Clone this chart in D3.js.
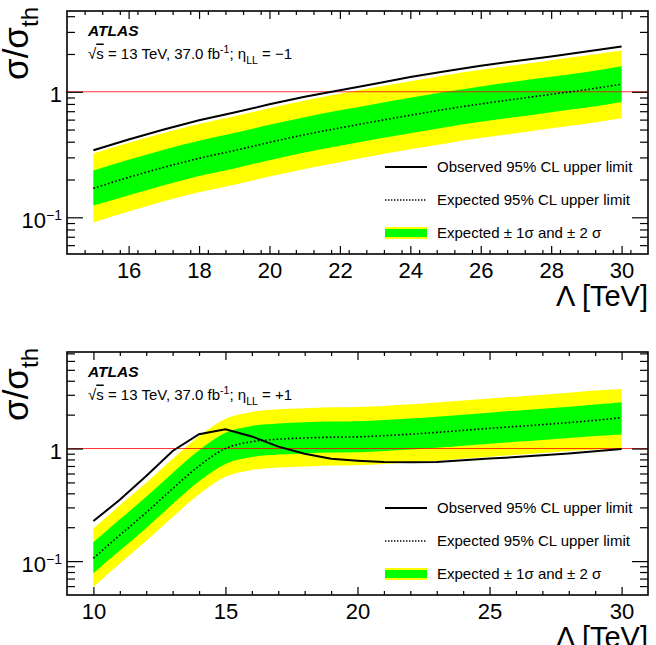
<!DOCTYPE html>
<html>
<head>
<meta charset="utf-8">
<script src="https://cdnjs.cloudflare.com/ajax/libs/d3/7.8.5/d3.min.js"></script>
<style>
  body { margin: 0; background: #fff; }
  text { font-family: "Liberation Sans", Arial, Helvetica, sans-serif; }
</style>
</head>
<body>
<div id="chart"></div>
<script>
// eta_LL = -1 (upper panel)
var topLambda = [15, 16, 17, 18, 19, 20, 21, 22, 23, 24, 25, 26, 27, 28, 29, 30];
var topObserved = [0.342, 0.417, 0.500, 0.593, 0.684, 0.794, 0.912, 1.030, 1.160, 1.310, 1.460, 1.610, 1.760, 1.910, 2.090, 2.290];
var topExpected = [0.170, 0.208, 0.250, 0.295, 0.340, 0.395, 0.455, 0.515, 0.580, 0.650, 0.725, 0.800, 0.875, 0.955, 1.040, 1.150];
var topMinus2 = [0.091, 0.111, 0.134, 0.158, 0.182, 0.211, 0.243, 0.275, 0.310, 0.348, 0.388, 0.428, 0.468, 0.511, 0.556, 0.615];
var topMinus1 = [0.124, 0.150, 0.180, 0.213, 0.245, 0.285, 0.328, 0.371, 0.418, 0.468, 0.522, 0.576, 0.630, 0.688, 0.749, 0.830];
var topPlus1 = [0.236, 0.287, 0.345, 0.407, 0.469, 0.545, 0.628, 0.711, 0.800, 0.897, 1.000, 1.104, 1.208, 1.318, 1.435, 1.600];
var topPlus2 = [0.323, 0.392, 0.470, 0.553, 0.637, 0.740, 0.852, 0.965, 1.085, 1.215, 1.355, 1.495, 1.635, 1.785, 1.945, 2.130];

// eta_LL = +1 (lower panel)
var bottomLambda = [10, 11, 12, 13, 14, 15, 16, 17, 18, 19, 20, 21, 22, 23, 24, 25, 26, 27, 28, 29, 30];
var bottomObserved = [0.227, 0.350, 0.570, 0.950, 1.340, 1.480, 1.280, 1.040, 0.900, 0.810, 0.780, 0.760, 0.755, 0.760, 0.785, 0.815, 0.840, 0.870, 0.905, 0.945, 0.990];
var bottomExpected = [0.106, 0.170, 0.270, 0.440, 0.700, 1.000, 1.150, 1.210, 1.240, 1.260, 1.270, 1.300, 1.340, 1.390, 1.450, 1.510, 1.570, 1.630, 1.700, 1.780, 1.880];
var bottomMinus2 = [0.059, 0.095, 0.151, 0.246, 0.392, 0.560, 0.644, 0.680, 0.694, 0.706, 0.711, 0.728, 0.750, 0.778, 0.812, 0.846, 0.879, 0.913, 0.952, 0.975, 1.000];
var bottomMinus1 = [0.078, 0.124, 0.197, 0.321, 0.511, 0.730, 0.840, 0.883, 0.905, 0.920, 0.927, 0.949, 0.978, 1.015, 1.059, 1.102, 1.146, 1.190, 1.241, 1.290, 1.330];
var bottomPlus1 = [0.147, 0.235, 0.373, 0.607, 0.966, 1.380, 1.587, 1.670, 1.710, 1.740, 1.750, 1.790, 1.850, 1.920, 2.000, 2.080, 2.170, 2.250, 2.350, 2.460, 2.580];
var bottomPlus2 = [0.195, 0.313, 0.497, 0.810, 1.288, 1.840, 2.116, 2.230, 2.280, 2.320, 2.340, 2.390, 2.470, 2.560, 2.670, 2.780, 2.890, 3.000, 3.130, 3.280, 3.380];

// tick values
var topXMajor = [16, 18, 20, 22, 24, 26, 28, 30];
var bottomXMajor = [10, 15, 20, 25, 30];
var yMajor = [0.1, 1];

var legendLabels = ["Observed 95% CL upper limit", "Expected 95% CL upper limit", "Expected \u00b1 1\u03c3 and \u00b1 2 \u03c3"];

var svgWidth = 656;
var svgHeight = 645;
var frameLeft = 67;
var frameWidth = 581;
var frameHeight = 243;

var svg = d3.select("#chart")
  .append("svg")
  .attr("width", svgWidth)
  .attr("height", svgHeight);

function range(a, b, step) {
  var out = [];
  for (var v = a; v <= b + 1e-9; v += step) out.push(+v.toFixed(3));
  return out;
}

function drawPanel(p) {
  var g = svg.append("g")
    .attr("transform", `translate(${frameLeft}, ${p.top})`);

  var x = d3.scaleLinear().domain(p.xDomain).range([0, frameWidth]);
  var y = d3.scaleLog().domain(p.yDomain).range([frameHeight, 0]);

  var rows = p.lambda.map(function(l, i) {
    return { l: l, obs: p.obs[i], exp: p.exp[i], m2: p.m2[i], m1: p.m1[i], p1: p.p1[i], p2: p.p2[i] };
  });

  function band(lo, hi) {
    return d3.area().curve(d3.curveMonotoneX)
      .x(d => x(d.l)).y0(d => y(d[lo])).y1(d => y(d[hi]));
  }

  // +-2 sigma and +-1 sigma bands
  g.append("path").datum(rows).attr("d", band("m2", "p2")).attr("fill", "#ffff00");
  g.append("path").datum(rows).attr("d", band("m1", "p1")).attr("fill", "#00ff00");

  // sigma/sigma_th = 1 reference
  g.append("line")
    .attr("x1", 0).attr("x2", frameWidth)
    .attr("y1", y(1)).attr("y2", y(1))
    .attr("stroke", "#ff0000")
    .attr("stroke-opacity", 0.8)
    .attr("stroke-width", 1);

  g.append("path").datum(rows)
    .attr("d", d3.line().curve(d3.curveMonotoneX).x(d => x(d.l)).y(d => y(d.exp)))
    .attr("fill", "none")
    .attr("stroke", "#000")
    .attr("stroke-width", 1.6)
    .attr("stroke-dasharray", "1.6,2.2");

  g.append("path").datum(rows)
    .attr("d", d3.line().x(d => x(d.l)).y(d => y(d.obs)))
    .attr("fill", "none")
    .attr("stroke", "#000")
    .attr("stroke-width", 2);

  // axes, ROOT style ticks pointing inward on all sides
  var xMinor = range(p.xDomain[0], p.xDomain[1], p.xMinorStep)
    .filter(v => v > p.xDomain[0] && v < p.xDomain[1] && p.xMajor.indexOf(v) < 0);
  var yMinor = [];
  [0.01, 0.1, 1].forEach(function(dec) {
    for (var k = 2; k <= 9; k++) {
      var v = +(k * dec).toFixed(4);
      if (v > p.yDomain[0] && v < p.yDomain[1]) yMinor.push(v);
    }
  });

  var bottomAxis = g.append("g")
    .attr("transform", `translate(0, ${frameHeight})`)
    .call(d3.axisBottom(x).tickValues(p.xMajor).tickSize(-8).tickPadding(8).tickFormat(d3.format("d")));
  bottomAxis.selectAll("text").attr("font-size", "22px").attr("fill", "#000");
  g.append("g")
    .attr("transform", `translate(0, ${frameHeight})`)
    .call(d3.axisBottom(x).tickValues(xMinor).tickSize(-4).tickFormat(""));
  g.append("g")
    .call(d3.axisTop(x).tickValues(p.xMajor).tickSize(-8).tickFormat(""));
  g.append("g")
    .call(d3.axisTop(x).tickValues(xMinor).tickSize(-4).tickFormat(""));

  var leftAxis = g.append("g")
    .call(d3.axisLeft(y).tickValues(yMajor).tickSize(-16).tickPadding(5)
      .tickFormat(d => d === 1 ? "1" : "10"));
  leftAxis.selectAll("text")
    .attr("font-size", "22px")
    .attr("fill", "#000")
    .attr("dy", "0.45em")
    .each(function(d) {
      if (d === 0.1) {
        d3.select(this).append("tspan")
          .attr("dy", "-8")
          .attr("font-size", "14px")
          .text("\u22121");
      }
    });
  g.append("g")
    .call(d3.axisLeft(y).tickValues(yMinor).tickSize(-8).tickFormat(""));
  g.append("g")
    .attr("transform", `translate(${frameWidth}, 0)`)
    .call(d3.axisRight(y).tickValues(yMajor).tickSize(-16).tickFormat(""));
  g.append("g")
    .attr("transform", `translate(${frameWidth}, 0)`)
    .call(d3.axisRight(y).tickValues(yMinor).tickSize(-8).tickFormat(""));

  g.selectAll(".domain").remove();
  g.selectAll(".tick line").attr("stroke", "#000").attr("stroke-width", 1.2);

  g.append("rect")
    .attr("width", frameWidth)
    .attr("height", frameHeight)
    .attr("fill", "none")
    .attr("stroke", "#000")
    .attr("stroke-width", 1.6);

  // axis titles
  var yTitle = svg.append("text")
    .attr("transform", `translate(28, ${p.top - 4}) rotate(-90)`)
    .attr("text-anchor", "end")
    .attr("font-size", "35px");
  yTitle.append("tspan").text("\u03c3/\u03c3");
  yTitle.append("tspan").attr("dy", 10).attr("font-size", "24px").text("th");

  svg.append("text")
    .attr("x", frameLeft + frameWidth)
    .attr("y", p.top + frameHeight + 52)
    .attr("text-anchor", "end")
    .attr("font-size", "29px")
    .text("\u039b [TeV]");

  // ATLAS label
  g.append("text")
    .attr("x", 21).attr("y", 25)
    .attr("font-size", "15.5px")
    .attr("font-weight", "bold")
    .attr("font-style", "italic")
    .text("ATLAS");
  var info = g.append("text")
    .attr("x", 21).attr("y", 47.5)
    .attr("font-size", "15px");
  info.append("tspan").text("\u221a");
  info.append("tspan").style("text-decoration", "overline").text("s");
  info.append("tspan").text(" = 13 TeV, 37.0 fb");
  info.append("tspan").attr("dy", -6).attr("font-size", "10.5px").text("-1");
  info.append("tspan").attr("dy", 6).text("; \u03b7");
  info.append("tspan").attr("dy", 5).attr("font-size", "10.5px").text("LL");
  info.append("tspan").attr("dy", -5).text(" = " + p.etaLabel);

  // legend
  var legendY = [156, 189, 222];
  var lg = g.append("g").attr("transform", `translate(${385 - frameLeft}, 0)`);
  lg.append("line")
    .attr("x1", 0).attr("x2", 42).attr("y1", legendY[0]).attr("y2", legendY[0])
    .attr("stroke", "#000").attr("stroke-width", 2);
  lg.append("line")
    .attr("x1", 0).attr("x2", 42).attr("y1", legendY[1]).attr("y2", legendY[1])
    .attr("stroke", "#000").attr("stroke-width", 1.4).attr("stroke-dasharray", "1.4,1.6");
  lg.append("rect")
    .attr("x", 0).attr("y", legendY[2] - 6).attr("width", 42).attr("height", 12)
    .attr("fill", "#ffff00");
  lg.append("rect")
    .attr("x", 0).attr("y", legendY[2] - 4).attr("width", 42).attr("height", 8)
    .attr("fill", "#00ff00");
  lg.selectAll("text.leg")
    .data(legendLabels)
    .enter()
    .append("text")
    .attr("class", "leg")
    .attr("x", 52)
    .attr("y", (d, i) => legendY[i] + 5)
    .attr("font-size", "15px")
    .text(d => d);
}

drawPanel({
  top: 11,
  xDomain: [14.25, 30.75],
  yDomain: [0.051, 4.4],
  xMajor: topXMajor,
  xMinorStep: 0.5,
  lambda: topLambda,
  obs: topObserved,
  exp: topExpected,
  m2: topMinus2,
  m1: topMinus1,
  p1: topPlus1,
  p2: topPlus2,
  etaLabel: "\u22121"
});

drawPanel({
  top: 352,
  xDomain: [9, 31],
  yDomain: [0.05, 7.2],
  xMajor: bottomXMajor,
  xMinorStep: 1,
  lambda: bottomLambda,
  obs: bottomObserved,
  exp: bottomExpected,
  m2: bottomMinus2,
  m1: bottomMinus1,
  p1: bottomPlus1,
  p2: bottomPlus2,
  etaLabel: "+1"
});
</script>
</body>
</html>
